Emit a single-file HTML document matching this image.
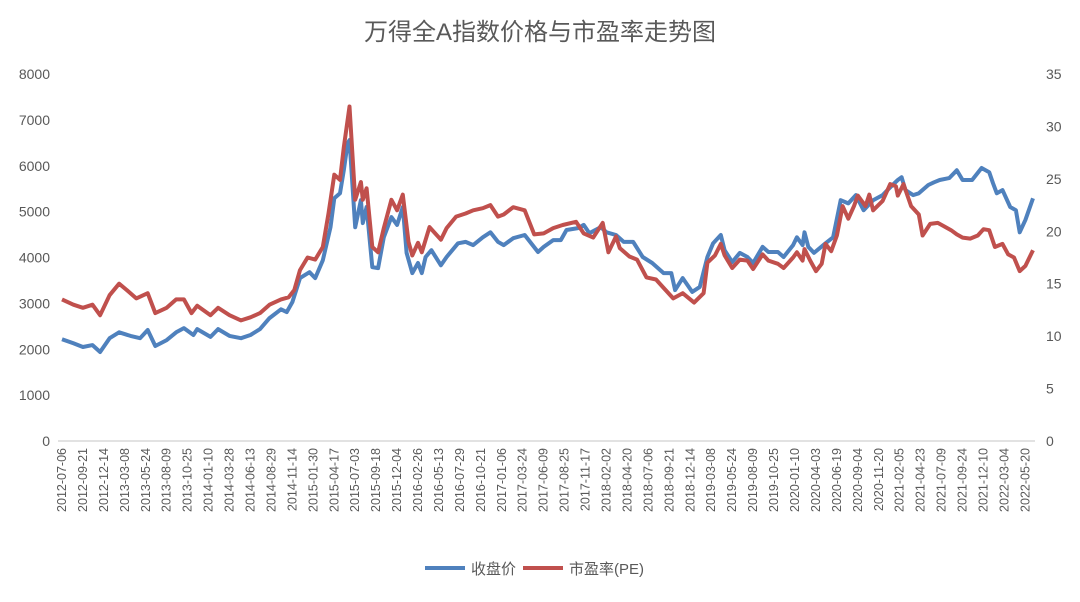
<!DOCTYPE html>
<html><head><meta charset="utf-8"><style>
body{margin:0;background:#fff;}
svg text{font-family:"Liberation Sans","Noto Sans CJK SC",sans-serif;fill:#595959;}
</style></head><body>
<svg width="1080" height="597" viewBox="0 0 1080 597" xmlns="http://www.w3.org/2000/svg">
<text x="540" y="40" text-anchor="middle" font-size="24">万得全A指数价格与市盈率走势图</text>
<g id="axes"></g>
<g id="series"></g>
<g>
<line x1="425" y1="568" x2="465" y2="568" stroke="#4F81BD" stroke-width="4"/>
<text x="471" y="574" font-size="15">收盘价</text>
<line x1="523" y1="568" x2="563" y2="568" stroke="#C0504D" stroke-width="4"/>
<text x="569" y="574" font-size="15">市盈率(PE)</text>
</g>
</svg>
<script>
const tickLabels=["2012-07-06","2012-09-21","2012-12-14","2013-03-08","2013-05-24","2013-08-09","2013-10-25","2014-01-10","2014-03-28","2014-06-13","2014-08-29","2014-11-14","2015-01-30","2015-04-17","2015-07-03","2015-09-18","2015-12-04","2016-02-26","2016-05-13","2016-07-29","2016-10-21","2017-01-06","2017-03-24","2017-06-09","2017-08-25","2017-11-17","2018-02-02","2018-04-20","2018-07-06","2018-09-21","2018-12-14","2019-03-08","2019-05-24","2019-08-09","2019-10-25","2020-01-10","2020-04-03","2020-06-19","2020-09-04","2020-11-20","2021-02-05","2021-04-23","2021-07-09","2021-09-24","2021-12-10","2022-03-04","2022-05-20"];
const leftTicks=[0,1000,2000,3000,4000,5000,6000,7000,8000];
const rightTicks=[0,5,10,15,20,25,30,35];
const priceIdx=[0,6,11,16,20,25,30,36,41,45,49,55,60,64,69,71,78,82,88,94,99,104,109,115,118,121,125,130,133,137,141,143,146,148,150,151,154,157,158,160,163,166,169,173,176,179,181,184,187,189,191,194,199,202,208,212,216,221,225,229,232,237,243,250,253,258,262,265,271,274,277,283,286,291,295,300,305,310,316,320,322,326,331,335,339,342,346,348,352,356,360,363,368,371,376,379,384,386,389,390,392,395,401,405,409,413,417,421,426,431,435,439,441,443,447,450,455,458,461,466,470,473,478,483,487,489,491,494,498,501,503,506,510];
const priceVals=[2220,2130,2050,2090,1940,2240,2370,2290,2240,2420,2070,2200,2370,2460,2310,2440,2270,2440,2290,2240,2310,2440,2680,2870,2810,3030,3550,3680,3550,3940,4660,5290,5400,5900,6490,6560,4660,5250,4750,5100,3790,3770,4440,4880,4710,5100,4100,3660,3880,3660,4010,4160,3830,4010,4310,4340,4270,4440,4550,4340,4270,4420,4490,4120,4230,4380,4380,4600,4640,4710,4530,4660,4550,4490,4340,4340,4010,3880,3660,3660,3290,3550,3250,3360,4010,4310,4490,4160,3900,4100,4010,3880,4230,4120,4120,4010,4270,4440,4270,4550,4230,4100,4310,4440,5250,5180,5360,5030,5250,5360,5530,5690,5750,5470,5360,5400,5580,5640,5690,5730,5900,5690,5690,5950,5860,5620,5400,5470,5100,5030,4550,4820,5290];
const peIdx=[0,6,11,16,20,25,30,34,39,45,49,55,60,64,68,71,78,82,88,94,99,104,109,115,119,122,125,129,133,137,140,143,146,148,151,154,157,158,160,163,166,169,173,176,179,182,184,187,189,193,199,202,207,212,216,221,225,229,232,237,243,248,253,258,263,270,274,279,284,287,291,293,298,302,307,312,316,321,326,332,337,339,343,346,348,352,356,360,363,368,371,376,379,384,386,389,390,393,396,399,401,404,407,410,413,416,418,422,424,426,431,435,438,439,442,446,450,452,456,460,463,467,470,473,477,481,484,487,490,494,497,500,503,506,510];
const peVals=[13.5,13.0,12.7,13.0,12.0,13.9,15.0,14.4,13.6,14.1,12.2,12.7,13.5,13.5,12.2,12.9,12.0,12.7,12.0,11.5,11.8,12.2,13.0,13.5,13.7,14.4,16.3,17.5,17.3,18.5,21.7,25.4,24.9,28.0,31.9,23.0,24.7,23.0,24.1,18.5,18.0,20.3,23.0,22.0,23.5,19.0,17.7,18.9,18.0,20.4,19.2,20.3,21.4,21.7,22.0,22.2,22.5,21.4,21.6,22.3,22.0,19.7,19.8,20.3,20.6,20.9,19.8,19.4,20.8,18.0,19.5,18.4,17.6,17.3,15.6,15.4,14.6,13.6,14.1,13.2,14.1,17.0,17.7,18.8,17.7,16.5,17.3,17.2,16.4,17.8,17.2,16.9,16.5,17.5,18.0,17.2,18.3,17.2,16.2,16.9,18.8,18.1,19.6,22.4,21.2,22.4,23.4,22.4,23.5,22.0,22.9,24.5,24.3,23.4,24.5,22.4,21.6,19.6,20.7,20.8,20.5,20.1,19.7,19.4,19.3,19.6,20.2,20.1,18.5,18.8,17.8,17.5,16.2,16.7,18.2];

const NS="http://www.w3.org/2000/svg";
const X0=62,X1=1033,NPTS=510,Y0=441,Y1=74;
const xs=i=>X0+i*(X1-X0)/NPTS;
const yL=v=>Y0-v/8000*(Y0-Y1);
const yR=v=>Y0-v/35*(Y0-Y1);
const axes=document.getElementById('axes');
const series=document.getElementById('series');
function mk(tag,attrs,parent){const e=document.createElementNS(NS,tag);for(const k in attrs)e.setAttribute(k,attrs[k]);parent.appendChild(e);return e;}

const axisLine=mk('line',{x1:X0-4,y1:Y0,x2:X1+2,y2:Y0,stroke:'#d9d9d9','stroke-width':1.5},axes);



leftTicks.forEach(v=>{
  const t=mk('text',{x:50,y:yL(v)+5,'text-anchor':'end','font-size':14},axes);
  t.textContent=v;
  
  
});
rightTicks.forEach(v=>{
  const t=mk('text',{x:1046,y:yR(v)+5,'text-anchor':'start','font-size':14},axes);
  t.textContent=v;
  
  
});
tickLabels.forEach((lab,i)=>{
  const x=xs(i*11)+4, y=448;
  const t=mk('text',{x:x,y:y,'text-anchor':'end','font-size':12.5,transform:`rotate(-90 ${x} ${y})`},axes);
  t.textContent=lab;
  
  
});

const pricePath=mk('polyline',{points:priceIdx.map((d,i)=>xs(d).toFixed(1)+','+yL(priceVals[i]).toFixed(1)).join(' '),fill:'none',stroke:'#4F81BD','stroke-width':4,'stroke-linejoin':'round'},series);


const pePath=mk('polyline',{points:peIdx.map((d,i)=>xs(d).toFixed(1)+','+yR(peVals[i]).toFixed(1)).join(' '),fill:'none',stroke:'#C0504D','stroke-width':4,'stroke-linejoin':'round'},series);


</script>
</body></html>
